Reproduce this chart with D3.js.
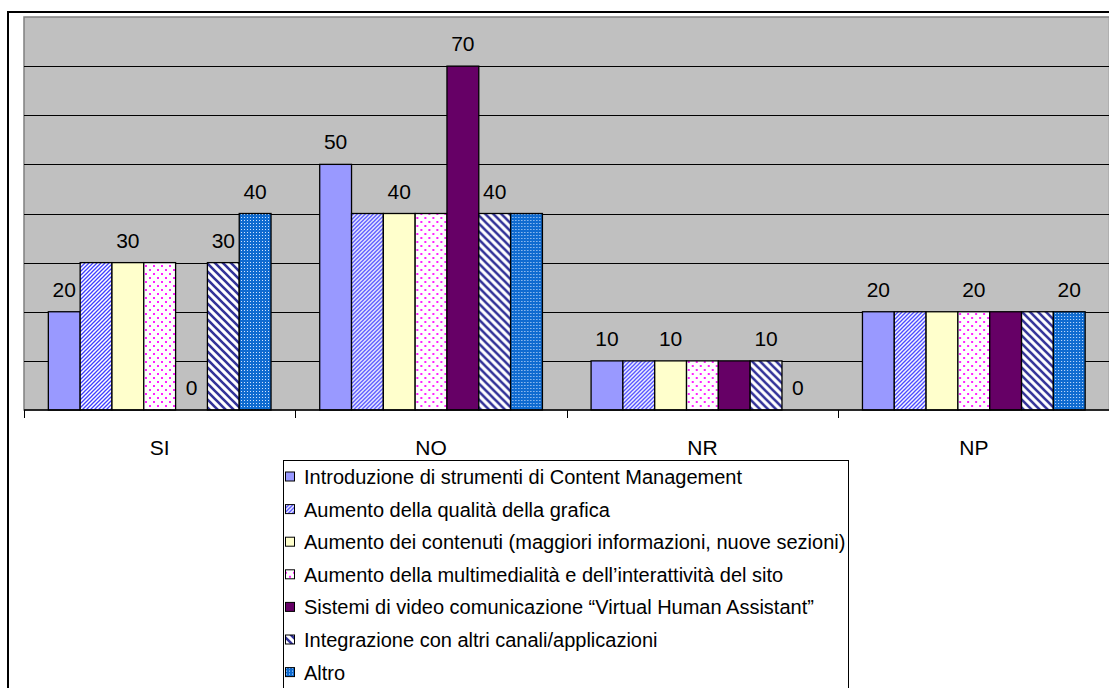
<!DOCTYPE html>
<html>
<head>
<meta charset="utf-8">
<script src="https://cdn.jsdelivr.net/npm/d3@7"></script>
<style>
  body { margin: 0; background: #fff; }
  text { font-family: "Liberation Sans", Arial, sans-serif; }
</style>
</head>
<body>
<svg id="chart"></svg>
<script>
// categories and series
const categories = ['SI', 'NO', 'NR', 'NP'];
const seriesNames = [
    'Introduzione di strumenti di Content Management',
    'Aumento della qualità della grafica',
    'Aumento dei contenuti (maggiori informazioni, nuove sezioni)',
    'Aumento della multimedialità e dell\u2019interattività del sito',
    'Sistemi di video comunicazione \u201cVirtual Human Assistant\u201d',
    'Integrazione con altri canali/applicazioni',
    'Altro'
];
const contentMgmt   = [20, 50, 10, 20];
const qualitaGrafica = [30, 40, 10, 20];
const contenuti     = [30, 40, 10, 20];
const multimedia    = [30, 40, 10, 20];
const videoVHA      = [0, 70, 10, 20];
const integrazione  = [30, 40, 10, 20];
const altro         = [40, 40, 0, 20];
const seriesValues = [contentMgmt, qualitaGrafica, contenuti, multimedia, videoVHA, integrazione, altro];

// which value labels are visible (the others were hidden by overlap)
const labelShown = [
    [1, 1, 1, 1],
    [0, 0, 0, 0],
    [1, 1, 1, 0],
    [0, 0, 0, 1],
    [1, 1, 0, 0],
    [1, 1, 1, 0],
    [1, 0, 1, 1]
];
const yTicks = [10, 20, 30, 40, 50, 60, 70];

const width = 1109, height = 688;
const plot = {left: 24, right: 1109.5, top: 17, bottom: 410};

const svg = d3.select('#chart')
    .attr('width', width)
    .attr('height', height);

// patterns
const defs = svg.append('defs');

const upDiag = defs.append('pattern')
    .attr('id', 'p-updiag')
    .attr('patternUnits', 'userSpaceOnUse')
    .attr('width', 4).attr('height', 4);
upDiag.append('rect').attr('width', 4).attr('height', 4).attr('fill', '#fff');
upDiag.append('path')
    .attr('d', 'M-1,1 L1,-1 M0,4 L4,0 M3,5 L5,3')
    .attr('stroke', '#3f3fff').attr('stroke-width', 1.3);

const dots = defs.append('pattern')
    .attr('id', 'p-dots')
    .attr('patternUnits', 'userSpaceOnUse')
    .attr('width', 8).attr('height', 8);
dots.append('rect').attr('width', 8).attr('height', 8).attr('fill', '#fff');
dots.append('rect').attr('x', 1).attr('y', 1).attr('width', 2).attr('height', 2).attr('fill', '#ff22ff');
dots.append('rect').attr('x', 5).attr('y', 5).attr('width', 2).attr('height', 2).attr('fill', '#ff22ff');

const wideDown = defs.append('pattern')
    .attr('id', 'p-widedown')
    .attr('patternUnits', 'userSpaceOnUse')
    .attr('width', 8).attr('height', 8);
wideDown.append('rect').attr('width', 8).attr('height', 8).attr('fill', '#fff');
wideDown.append('path')
    .attr('d', 'M-2,-2 L10,10 M-2,6 L2,10 M6,-2 L10,2')
    .attr('stroke', '#333399').attr('stroke-width', 2.6);

const blueDots = defs.append('pattern')
    .attr('id', 'p-bluedots')
    .attr('patternUnits', 'userSpaceOnUse')
    .attr('width', 3).attr('height', 3);
blueDots.append('rect').attr('width', 3).attr('height', 3).attr('fill', '#0f6bd0');
blueDots.append('rect').attr('x', 1).attr('y', 1).attr('width', 1).attr('height', 1).attr('fill', '#cfe3ff');

const fills = ['#9999ff', 'url(#p-updiag)', '#ffffcc', 'url(#p-dots)', '#660066', 'url(#p-widedown)', 'url(#p-bluedots)'];

// outer frame
svg.append('rect')
    .attr('x', 8).attr('y', 12)
    .attr('width', 1120).attr('height', 700)
    .attr('fill', '#fff')
    .attr('stroke', '#000')
    .attr('stroke-width', 2);

// scales
const x0 = d3.scaleBand()
    .domain(categories)
    .range([plot.left, plot.right])
    .padding(0);

const x1 = d3.scaleBand()
    .domain(d3.range(seriesNames.length))
    .range([0, x0.bandwidth()])
    .paddingInner(0)
    .paddingOuter(0.765);

const y = d3.scaleLinear()
    .domain([0, 80])
    .range([plot.bottom, plot.top]);

// plot area
svg.append('rect')
    .attr('x', plot.left).attr('y', plot.top)
    .attr('width', plot.right - plot.left).attr('height', plot.bottom - plot.top)
    .attr('fill', '#c0c0c0')
    .attr('stroke', '#808080')
    .attr('stroke-width', 1.5);

svg.append('g')
    .selectAll('line')
    .data(yTicks)
    .join('line')
    .attr('x1', plot.left).attr('x2', plot.right)
    .attr('y1', d => Math.round(y(d)) + 0.5)
    .attr('y2', d => Math.round(y(d)) + 0.5)
    .attr('stroke', '#000')
    .attr('stroke-width', 1);

// bars
const groups = svg.append('g')
    .selectAll('g')
    .data(categories)
    .join('g')
    .attr('transform', d => `translate(${x0(d)},0)`);

groups.selectAll('rect')
    .data((c, ci) => seriesValues.map((vals, si) => ({si: si, v: vals[ci]})))
    .join('rect')
    .filter(d => d.v > 0)
    .attr('x', d => x1(d.si))
    .attr('y', d => y(d.v))
    .attr('width', x1.bandwidth())
    .attr('height', d => y(0) - y(d.v))
    .attr('fill', d => fills[d.si])
    .attr('stroke', '#000')
    .attr('stroke-width', 1.3);

// value labels
groups.selectAll('text')
    .data((c, ci) => seriesValues.map((vals, si) => ({si: si, v: vals[ci], show: labelShown[si][ci]}))
        .filter(d => d.show))
    .join('text')
    .attr('x', d => x1(d.si) + x1.bandwidth() / 2)
    .attr('y', d => y(d.v) - 15)
    .attr('text-anchor', 'middle')
    .style('font-size', '21px')
    .attr('fill', '#000')
    .text(d => d.v);

// x axis
svg.append('line')
    .attr('x1', plot.left).attr('x2', plot.right)
    .attr('y1', plot.bottom).attr('y2', plot.bottom)
    .attr('stroke', '#000').attr('stroke-width', 1.5);

const tickPos = categories.map(c => x0(c)).concat([plot.right - 1]);
svg.append('g')
    .selectAll('line')
    .data(tickPos)
    .join('line')
    .attr('x1', d => Math.round(d) + 0.5).attr('x2', d => Math.round(d) + 0.5)
    .attr('y1', plot.bottom).attr('y2', plot.bottom + 8)
    .attr('stroke', '#000');

svg.append('g')
    .selectAll('text')
    .data(categories)
    .join('text')
    .attr('x', d => x0(d) + x0.bandwidth() / 2)
    .attr('y', 455)
    .attr('text-anchor', 'middle')
    .style('font-size', '21px')
    .text(d => d);

// legend
const legend = svg.append('g');
legend.append('rect')
    .attr('x', 283.5).attr('y', 460.5)
    .attr('width', 565).attr('height', 260)
    .attr('fill', '#fff')
    .attr('stroke', '#000')
    .attr('stroke-width', 1);

const rowH = 32.6;
const items = legend.selectAll('g.item')
    .data(seriesNames)
    .join('g')
    .attr('class', 'item')
    .attr('transform', (d, i) => `translate(0,${477 + i * rowH})`);

items.append('rect')
    .attr('x', 285.5).attr('y', -5)
    .attr('width', 9).attr('height', 9)
    .attr('fill', (d, i) => fills[i])
    .attr('stroke', '#000')
    .attr('stroke-width', 1);

items.append('text')
    .attr('x', 304)
    .attr('y', 7)
    .style('font-size', '20px')
    .text(d => d);
</script>
</body>
</html>
